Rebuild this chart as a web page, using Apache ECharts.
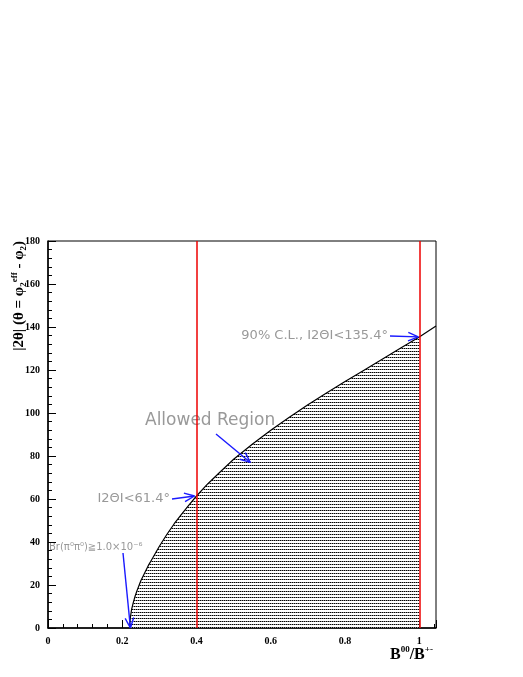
<!DOCTYPE html>
<html><head><meta charset="utf-8">
<script src="https://cdn.jsdelivr.net/npm/echarts@6/dist/echarts.min.js"></script>
<style>html,body{margin:0;padding:0;background:#fff}#c{width:523px;height:677px}</style>
</head><body><div id="c"></div>
<script>
// curve |2θ| vs B00/B+-
var curveX = [0.22, 0.2205, 0.222, 0.225, 0.23, 0.235, 0.24, 0.25, 0.26, 0.27, 0.28, 0.29, 0.3, 0.32, 0.34, 0.36, 0.38, 0.4, 0.43, 0.46, 0.5, 0.55, 0.6, 0.65, 0.7, 0.75, 0.8, 0.85, 0.9, 0.95, 1.0, 1.045];
var curveY = [0, 2.5, 5, 8.5, 12, 15, 17.5, 22, 25.5, 29, 32, 35, 38, 43.5, 48.5, 53, 57.3, 61.4, 67, 72, 78.5, 85.5, 92, 98, 103.8, 109.3, 114.6, 119.8, 125, 130.2, 135.4, 140.5];
var limitX = [0.4, 1.0];

var chart = echarts.init(document.getElementById('c'));

var pat = document.createElement('canvas');
pat.width = 2; pat.height = 3;
var pc = pat.getContext('2d');
pc.fillStyle = '#fff'; pc.fillRect(0, 0, 2, 3);
pc.fillStyle = '#000'; pc.fillRect(0, 0, 1, 1);
pc.fillStyle = '#888'; pc.fillRect(1, 0, 1, 1);

var curve = curveX.map(function (x, i) { return [x, curveY[i]]; });
var fill = curve.filter(function (p) { return p[0] <= 1.0; });
var serif = '"Liberation Serif", "DejaVu Serif", serif';

chart.setOption({
    animation: false,
    grid: {left: 48, right: 87, top: 241, bottom: 49},
    xAxis: {
        type: 'value', min: 0, max: 1.045, interval: 0.2,
        axisLine: {lineStyle: {color: '#000', width: 1.5}},
        axisTick: {inside: true, length: 8, lineStyle: {color: '#000'}},
        minorTick: {show: true, splitNumber: 5, length: 4, lineStyle: {color: '#000'}},
        splitLine: {show: false},
        axisLabel: {showMaxLabel: false, color: '#000', fontFamily: serif, fontWeight: 'bold', fontSize: 10,
            formatter: function (v) { return (v === 0 || v === 1) ? String(v) : v.toFixed(1); }}
    },
    yAxis: {
        type: 'value', min: 0, max: 180, interval: 20,
        axisLine: {lineStyle: {color: '#000', width: 1.5}},
        axisTick: {inside: true, length: 8, lineStyle: {color: '#000'}},
        minorTick: {show: true, splitNumber: 5, length: 4, lineStyle: {color: '#000'}},
        splitLine: {show: false},
        axisLabel: {color: '#000', fontFamily: serif, fontWeight: 'bold', fontSize: 10}
    },
    series: [
        {type: 'line', data: fill, showSymbol: false, lineStyle: {width: 0},
         areaStyle: {color: {image: pat, repeat: 'repeat'}, opacity: 1}, silent: true},
        {type: 'line', data: curve, showSymbol: false,
         lineStyle: {color: '#000', width: 1.2},
         markLine: {symbol: 'none', silent: true, label: {show: false},
             lineStyle: {color: '#e00', width: 1.5, type: 'solid'},
             data: limitX.map(function (x) { return {xAxis: x}; })}}
    ]
});

function px(x, y) { return chart.convertToPixel({gridIndex: 0}, [x, y]); }
var tl = px(0, 180), br = px(1.045, 0);

function arrow(x1, y1, x2, y2) {
    var a = Math.atan2(y2 - y1, x2 - x1), h = 11, w = 0.4;
    var st = {stroke: '#1a1aff', lineWidth: 1.4};
    return [
        {type: 'line', z: 100, shape: {x1: x1, y1: y1, x2: x2, y2: y2}, style: st},
        {type: 'line', z: 100, shape: {x1: x2, y1: y2, x2: x2 - h * Math.cos(a - w), y2: y2 - h * Math.sin(a - w)}, style: st},
        {type: 'line', z: 100, shape: {x1: x2, y1: y2, x2: x2 - h * Math.cos(a + w), y2: y2 - h * Math.sin(a + w)}, style: st}
    ];
}
var sans = '"DejaVu Sans", sans-serif';
var grey = '#999';
var p1 = px(1.0, 135.4), p2 = px(0.545, 77), p3 = px(0.4, 61.4), p4 = px(0.222, 0);
var g = [
    {type: 'rect', shape: {x: tl[0], y: tl[1], width: br[0] - tl[0], height: br[1] - tl[1]},
     style: {fill: null, stroke: '#000', lineWidth: 1}, silent: true},
    {type: 'text', x: 388, y: 336, style: {text: '90% C.L., I2ΘI<135.4°', align: 'right', verticalAlign: 'middle', font: '13px ' + sans, fill: grey}},
    {type: 'text', x: 145, y: 421, style: {text: 'Allowed Region', verticalAlign: 'middle', font: '17px ' + sans, fill: grey}},
    {type: 'text', x: 170, y: 499, style: {text: 'I2ΘI<61.4°', align: 'right', verticalAlign: 'middle', font: '13px ' + sans, fill: grey}},
    {type: 'text', x: 49, y: 547, style: {text: 'Br(π⁰π⁰)≧1.0×10⁻⁶', verticalAlign: 'middle', font: '10px ' + sans, fill: grey}},
    {type: 'text', x: 390, y: 654, style: {
        text: '{b|B}{s|00}{b|/B}{s|+-}', verticalAlign: 'middle',
        rich: {b: {font: 'bold 16px ' + serif, fill: '#000', verticalAlign: 'bottom'},
               s: {font: 'bold 9px ' + serif, fill: '#000', verticalAlign: 'top', padding: [0, 0, 8, 0]}}}},
    {type: 'text', x: 19, y: 241, rotation: Math.PI / 2, style: {
        text: '{b||2θ| (θ = φ}{s|2}{u|eff}{b| - φ}{s|2}{b|)}', align: 'right', verticalAlign: 'middle',
        rich: {b: {font: 'bold 15px ' + serif, fill: '#000'},
               s: {font: 'bold 9px ' + serif, fill: '#000', padding: [9, 0, 0, 0]},
               u: {font: 'bold 9px ' + serif, fill: '#000', padding: [0, 0, 9, 0]}}}}
];
g = g.concat(arrow(390, 336, p1[0] - 1, p1[1]));
g = g.concat(arrow(216, 434, p2[0], p2[1]));
g = g.concat(arrow(172, 499, p3[0] - 2, p3[1]));
g = g.concat(arrow(123, 553, p4[0], p4[1]));
chart.setOption({graphic: g});
</script>
</body></html>
